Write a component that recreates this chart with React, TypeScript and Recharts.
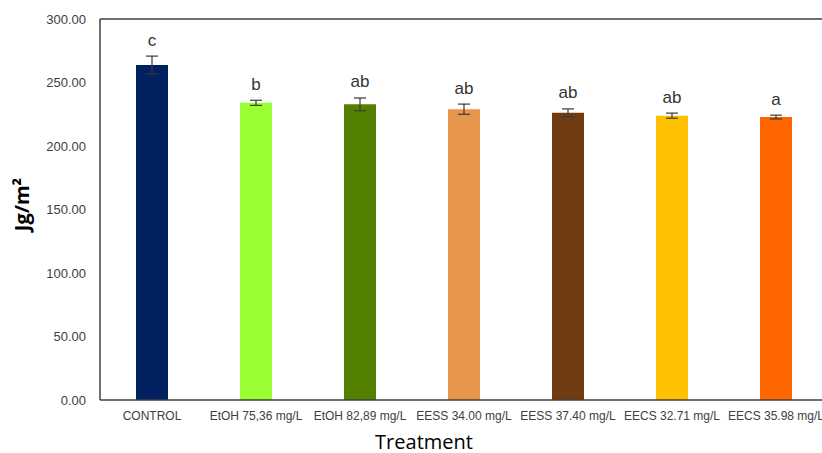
import React from 'react';
import {
  BarChart, Bar, XAxis, YAxis, Cell, ErrorBar, LabelList, ReferenceLine, Label
} from 'recharts';

const treatments = [
  'CONTROL',
  'EtOH 75,36 mg/L',
  'EtOH 82,89 mg/L',
  'EESS 34.00 mg/L',
  'EESS 37.40 mg/L',
  'EECS 32.71 mg/L',
  'EECS 35.98 mg/L',
];
const means = [263.8, 234.0, 232.8, 229.0, 226.2, 223.9, 222.8];
const errors = [7.0, 2.0, 5.0, 4.0, 3.0, 2.0, 1.5];
const letters = ['c', 'b', 'ab', 'ab', 'ab', 'ab', 'a'];
const colors = ['#002060', '#99ff33', '#548000', '#e6964b', '#6e3c10', '#ffc000', '#ff6600'];
const yTicks = [0, 50, 100, 150, 200, 250, 300];

const data = treatments.map((name, i) => ({
  name,
  value: means[i],
  err: errors[i],
  letter: letters[i],
}));

const PLOT_TOP = 19;
const PLOT_BOTTOM = 400;
const Y_MAX = 300;
const pxPerUnit = (PLOT_BOTTOM - PLOT_TOP) / Y_MAX;

// letter sits above the top of the error bar
const LetterLabel = (props: any) => {
  const { x, y, width, index } = props;
  const d = data[index];
  const top = y - d.err * pxPerUnit;
  return (
    <text
      x={x + width / 2}
      y={top - 16}
      textAnchor="middle"
      dominantBaseline="central"
      fontFamily="'Liberation Sans', Arial, sans-serif"
      fontSize={17}
      fill="#333"
    >
      {d.letter}
    </text>
  );
};

export default function App() {
  return (
    <div style={{ position: 'absolute', left: 0, top: 0, width: 822, height: 453, overflow: 'hidden', background: '#fff' }}>
      <BarChart
        width={840}
        height={453}
        data={data}
        margin={{ top: PLOT_TOP, right: 12, left: 0, bottom: 0 }}
      >
        <XAxis
          dataKey="name"
          height={53}
          interval={0}
          tickLine={false}
          axisLine={{ stroke: '#404040', strokeWidth: 1.5 }}
          tick={{ fontSize: 12, fill: '#404040', fontFamily: "'Liberation Sans Narrow', 'Liberation Sans', sans-serif" }}
          tickMargin={5}
        />
        <YAxis
          width={100}
          domain={[0, 300]}
          ticks={yTicks}
          tickFormatter={(v: number) => v.toFixed(2)}
          tickLine={false}
          axisLine={{ stroke: '#404040', strokeWidth: 1.5 }}
          tick={{ fontSize: 13, fill: '#404040', fontFamily: "'Liberation Sans', sans-serif" }}
          tickMargin={8}
        >
          <Label
            value="Jg/m²"
            angle={-90}
            position="insideLeft"
            offset={22}
            dy={-5}
            style={{ fontSize: 20, fontWeight: 'bold', fill: '#000', fontFamily: "'Open Sans', sans-serif", textAnchor: 'middle' }}
          />
        </YAxis>
        <ReferenceLine y={300} stroke="#404040" strokeWidth={1.5} />
        <Bar dataKey="value" barSize={32} isAnimationActive={false}>
          {data.map((d, i) => (
            <Cell key={d.name} fill={colors[i]} />
          ))}
          <ErrorBar dataKey="err" width={6} stroke="#3a3a3a" strokeWidth={1.2} />
          <LabelList dataKey="value" content={LetterLabel} />
        </Bar>
        <text
          x={424}
          y={441}
          textAnchor="middle"
          dominantBaseline="central"
          fontSize={20}
          fontFamily="'Open Sans', sans-serif"
          fill="#000"
        >
          Treatment
        </text>
      </BarChart>
    </div>
  );
}
